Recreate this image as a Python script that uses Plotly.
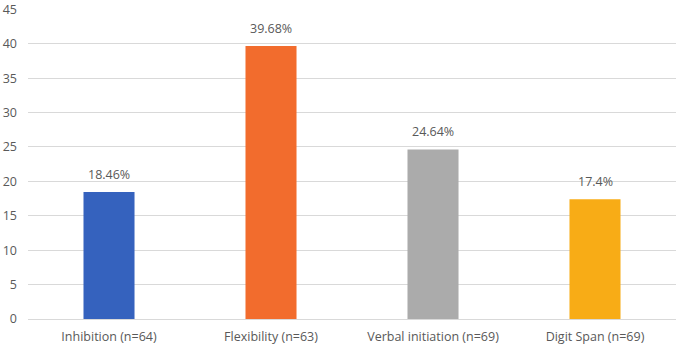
import plotly.graph_objects as go

categories = ["Inhibition (n=64)", "Flexibility (n=63)", "Verbal initiation (n=69)", "Digit Span (n=69)"]
values = [18.46, 39.68, 24.64, 17.4]
labels = ["18.46%", "39.68%", "24.64%", "17.4%"]
colors = ["#3562BE", "#F26C2D", "#ABABAB", "#F8AC16"]
yticks = [0, 5, 10, 15, 20, 25, 30, 35, 40, 45]

FONT = dict(family="Open Sans", size=12.5, color="#595959")

fig = go.Figure(go.Bar(
    x=categories, y=values,
    marker=dict(color=colors, line=dict(width=0)),
    width=0.315, cliponaxis=False,
))
for c, v, t in zip(categories, values, labels):
    fig.add_annotation(x=c, y=v, text=t, showarrow=False, yanchor="bottom",
                       yshift=7, font=FONT)
fig.update_layout(
    width=677, height=344,
    margin=dict(l=28, r=1, t=9, b=25),
    plot_bgcolor="white", paper_bgcolor="white",
    showlegend=False,
    font=FONT,
)
fig.update_yaxes(range=[0, 45.05], tickvals=yticks, gridcolor="#D9D9D9", gridwidth=1,
                 zeroline=True, zerolinecolor="#D9D9D9", zerolinewidth=1,
                 showline=False, ticks="", ticklabelstandoff=10, tickfont=FONT,
                 automargin=False, ticklabeloverflow="allow")
fig.update_xaxes(showline=False, ticks="", ticklabelstandoff=8, tickfont=FONT,
                 automargin=False)
fig.write_html("out.html")
